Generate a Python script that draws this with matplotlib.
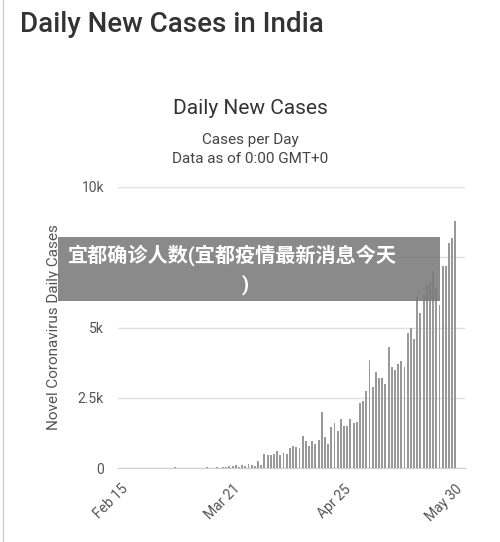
import matplotlib
matplotlib.use("Agg")
import matplotlib.pyplot as plt
import datetime as dt

start = dt.date(2020, 2, 15)
early = [0]*15 + [2,1,22,2,1,3,5,4,13,6,11,9,20,11,6,23,14,38,50,86,66,103,37,121,70,160,100,87]
late = [250,100,500,480,470,500,620,450,550,500,700,800,750,700,1150,950,800,950,850,1000,2000,
        1100,850,1450,1600,1300,1750,1500,1500,1750,1600,1650,2300,2400,2750,3850,2900,3400,3200,
        3200,3000,4300,3600,3500,3700,3800,3600,4800,5000,4600,6100,5500,6200,6500,6600,7000,6400,
        5800,7200,7200,8000,8200,8800]
values = early + late
dates = [start + dt.timedelta(days=i) for i in range(len(values))]
tick_dates = [dt.date(2020,2,15), dt.date(2020,3,21), dt.date(2020,4,25), dt.date(2020,5,30)]
tick_labels = ["Feb 15", "Mar 21", "Apr 25", "May 30"]
yticks = [0, 2500, 5000, 7500, 10000]
ylabels = ["0", "2.5k", "5k", "7.5k", "10k"]

plt.rcParams['font.family'] = ['Roboto', 'Noto Sans CJK SC', 'DejaVu Sans']
fig = plt.figure(figsize=(5, 5.42), dpi=100)
ax = fig.add_axes([0.236, 0.1365, 0.694, 0.5185])
ax.bar(dates, values, width=0.6, color='#999999')
ax.set_ylim(0, 10000)
ax.set_xlim(start - dt.timedelta(days=1), dt.date(2020, 6, 1) + dt.timedelta(days=1))
ax.set_yticks(yticks)
ax.set_yticklabels(ylabels, color='#555555', fontsize=10)
ax.set_xticks(tick_dates)
ax.set_xticklabels(tick_labels, rotation=45, ha='right', rotation_mode='anchor', color='#555555', fontsize=10)
ax.tick_params(length=0, pad=10)
ax.grid(axis='y', color='#e0e0e0', lw=1)
ax.set_axisbelow(True)
for s in ['top', 'right', 'left']:
    ax.spines[s].set_visible(False)
ax.spines['bottom'].set_color('#cccccc')
ax.set_ylabel("Novel Coronavirus Daily Cases", color='#555555', fontsize=11, labelpad=12)

fig.text(0.04, 0.955, "Daily New Cases in India", fontsize=20, fontweight='medium', color='#333333', va='center')
fig.text(0.5, 0.80, "Daily New Cases", fontsize=15, color='#333333', ha='center', va='center')
fig.text(0.5, 0.742, "Cases per Day", fontsize=11, color='#444444', ha='center', va='center')
fig.text(0.5, 0.706, "Data as of 0:00 GMT+0", fontsize=11, color='#444444', ha='center', va='center')
fig.add_artist(plt.Line2D([0.006, 0.006], [0, 1], color='#cccccc', lw=1))
fig.add_artist(plt.Rectangle((0.116, 0.445), 0.764, 0.117, color='#7a7a7a', alpha=0.88, lw=0, zorder=5))
t1 = fig.text(0.136, 0.53, "宜都确诊人数(宜都疫情最新消息今天", fontsize=14.5, color='white', fontweight='bold', ha='left', va='center')
t2 = fig.text(0.49, 0.475, ")", fontsize=14.5, color='white', fontweight='bold', ha='center', va='center')
t1.set_zorder(6); t2.set_zorder(6)
fig.savefig("out.png", dpi=100)
